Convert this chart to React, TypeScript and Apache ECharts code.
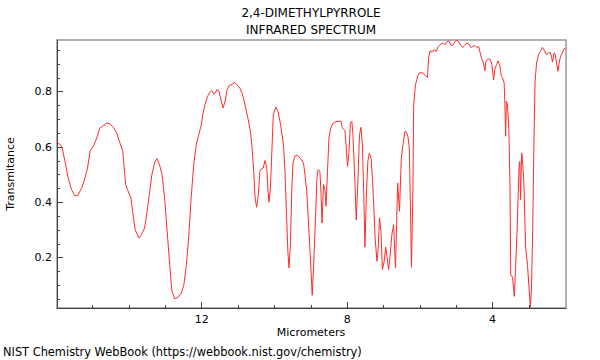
import React, { useEffect, useRef } from "react";
import * as echarts from "echarts";

const micrometers = [
  15.99, 15.87, 15.84, 15.76, 15.67, 15.58, 15.49, 15.41, 15.35, 15.29, 15.21, 15.14, 15.07, 14.98, 14.92, 14.86,
  14.8, 14.71, 14.66, 14.62, 14.52, 14.43, 14.34, 14.25, 14.17, 14.14, 14.09, 14.04, 13.98, 13.95, 13.89, 13.83,
  13.73, 13.66, 13.57, 13.5, 13.43, 13.37, 13.29, 13.23, 13.16, 13.09, 13.02, 12.95, 12.88, 12.82, 12.74, 12.65,
  12.56, 12.49, 12.42, 12.36, 12.29, 12.22, 12.15, 12.08, 12.01, 11.97, 11.91, 11.84, 11.76, 11.73, 11.67, 11.63,
  11.58, 11.53, 11.47, 11.41, 11.36, 11.3, 11.24, 11.17, 11.1, 11.03, 10.95, 10.88, 10.81, 10.73, 10.66, 10.62,
  10.57, 10.53, 10.49, 10.44, 10.4, 10.35, 10.31, 10.26, 10.21, 10.18, 10.15, 10.11, 10.07, 10.03, 9.96, 9.9,
  9.83, 9.75, 9.71, 9.67, 9.63, 9.6, 9.56, 9.52, 9.49, 9.44, 9.37, 9.28, 9.2, 9.16, 9.11, 9.07,
  9.02, 8.96, 8.92, 8.87, 8.83, 8.8, 8.75, 8.72, 8.69, 8.65, 8.61, 8.58, 8.54, 8.5, 8.45, 8.38,
  8.28, 8.17, 8.13, 8.06, 8.03, 7.99, 7.95, 7.91, 7.87, 7.84, 7.79, 7.75, 7.7, 7.66, 7.62, 7.58,
  7.54, 7.51, 7.47, 7.43, 7.39, 7.34, 7.29, 7.23, 7.18, 7.15, 7.11, 7.07, 7.03, 6.98, 6.94, 6.9,
  6.86, 6.82, 6.77, 6.72, 6.67, 6.63, 6.61, 6.56, 6.51, 6.47, 6.41, 6.37, 6.33, 6.29, 6.26, 6.23,
  6.19, 6.17, 6.12, 6.05, 6.0, 5.94, 5.92, 5.85, 5.79, 5.76, 5.72, 5.66, 5.61, 5.55, 5.49, 5.42,
  5.35, 5.3, 5.26, 5.2, 5.15, 5.09, 5.04, 4.98, 4.93, 4.87, 4.82, 4.76, 4.71, 4.65, 4.6, 4.54,
  4.49, 4.43, 4.38, 4.34, 4.29, 4.25, 4.21, 4.18, 4.12, 4.06, 4.02, 3.97, 3.94, 3.89, 3.85, 3.8,
  3.76, 3.73, 3.68, 3.66, 3.64, 3.62, 3.59, 3.55, 3.52, 3.5, 3.45, 3.4, 3.37, 3.32, 3.27, 3.25,
  3.23, 3.2, 3.18, 3.14, 3.09, 3.04, 2.99, 2.96, 2.93, 2.9, 2.86, 2.83, 2.79, 2.73, 2.68, 2.63,
  2.57, 2.52, 2.46, 2.42, 2.38, 2.35, 2.31, 2.28, 2.24, 2.2, 2.17, 2.13, 2.08, 2.04, 2.0,
];

const transmittance = [
  0.618, 0.606, 0.597, 0.548, 0.488, 0.446, 0.424, 0.424, 0.44, 0.455, 0.488, 0.524, 0.585, 0.603, 0.621, 0.645,
  0.669, 0.677, 0.681, 0.687, 0.683, 0.671, 0.651, 0.615, 0.585, 0.536, 0.464, 0.446, 0.426, 0.42, 0.355, 0.301,
  0.271, 0.283, 0.307, 0.368, 0.44, 0.5, 0.546, 0.558, 0.536, 0.5, 0.416, 0.295, 0.175, 0.079, 0.051, 0.057,
  0.072, 0.102, 0.175, 0.271, 0.416, 0.536, 0.608, 0.645, 0.681, 0.717, 0.753, 0.783, 0.801, 0.805, 0.792, 0.795,
  0.807, 0.805, 0.771, 0.741, 0.765, 0.807, 0.823, 0.825, 0.835, 0.825, 0.813, 0.792, 0.753, 0.705, 0.657, 0.608,
  0.512, 0.416, 0.382, 0.428, 0.512, 0.522, 0.524, 0.551, 0.524, 0.452, 0.4, 0.452, 0.585, 0.717, 0.744, 0.729,
  0.681, 0.608, 0.512, 0.368, 0.223, 0.163, 0.247, 0.452, 0.542, 0.567, 0.57, 0.558, 0.542, 0.5, 0.44, 0.344,
  0.223, 0.064, 0.175, 0.344, 0.488, 0.518, 0.512, 0.44, 0.325, 0.464, 0.446, 0.386, 0.512, 0.633, 0.669, 0.687,
  0.693, 0.693, 0.669, 0.659, 0.608, 0.53, 0.58, 0.687, 0.693, 0.645, 0.488, 0.337, 0.488, 0.645, 0.671, 0.608,
  0.416, 0.238, 0.428, 0.548, 0.578, 0.56, 0.452, 0.271, 0.187, 0.223, 0.344, 0.295, 0.157, 0.187, 0.238, 0.199,
  0.157, 0.205, 0.283, 0.319, 0.163, 0.368, 0.47, 0.368, 0.56, 0.603, 0.657, 0.654, 0.639, 0.597, 0.392, 0.165,
  0.452, 0.753, 0.825, 0.859, 0.869, 0.868, 0.868, 0.859, 0.852, 0.922, 0.948, 0.943, 0.952, 0.946, 0.964, 0.972,
  0.976, 0.97, 0.98, 0.984, 0.968, 0.968, 0.98, 0.987, 0.98, 0.968, 0.96, 0.968, 0.976, 0.972, 0.96, 0.964,
  0.968, 0.96, 0.963, 0.94, 0.916, 0.904, 0.876, 0.91, 0.919, 0.916, 0.898, 0.843, 0.88, 0.898, 0.912, 0.895,
  0.856, 0.852, 0.831, 0.753, 0.639, 0.765, 0.753, 0.657, 0.452, 0.139, 0.129, 0.06, 0.151, 0.319, 0.536, 0.548,
  0.41, 0.578, 0.56, 0.476, 0.235, 0.175, 0.079, 0.021, 0.091, 0.271, 0.633, 0.838, 0.904, 0.936, 0.946, 0.96,
  0.948, 0.934, 0.94, 0.943, 0.928, 0.907, 0.94, 0.936, 0.904, 0.874, 0.904, 0.928, 0.94, 0.955, 0.958,
];

const xMajorTicks = [12, 8, 4];
const xMinorTicks = [15, 14, 13, 11, 10, 9, 7, 6, 5, 3];
const yMajorTicks = [0.2, 0.4, 0.6, 0.8];
const yMinorTicks = [0.05, 0.1, 0.15, 0.25, 0.3, 0.35, 0.45, 0.5, 0.55, 0.65, 0.7, 0.75, 0.85, 0.9, 0.95];

const titleLines = ["2,4-DIMETHYLPYRROLE", "INFRARED SPECTRUM"];
const xName = "Micrometers";
const yName = "Transmitance";
const footer = "NIST Chemistry WebBook (https://webbook.nist.gov/chemistry)";

const X_MIN = 1.98;
const X_MAX = 15.98;
const Y_MIN = 0.018;
const Y_MAX = 0.987;

const FONT = "DejaVu Sans";

export default function App() {
  const ref = useRef<HTMLDivElement>(null);
  useEffect(() => {
    if (!ref.current) return;
    const chart = echarts.init(ref.current, null, { renderer: "svg" });
    const data = micrometers.map((m, i) => [m, transmittance[i]]);
    const axisLineStyle = { color: "#444", width: 1 };
    chart.setOption({
      animation: false,
      backgroundColor: "#fff",
      grid: {
        left: 57,
        right: 34,
        top: 40,
        bottom: 52,
        show: true,
        borderColor: "#999",
        borderWidth: 1.5,
      },
      xAxis: [
        {
          type: "value",
          min: X_MIN,
          max: X_MAX,
          inverse: true,
          position: "bottom",
          axisLine: { show: true, lineStyle: axisLineStyle },
          axisTick: { show: true, inside: true, length: 6, customValues: xMajorTicks, lineStyle: axisLineStyle },
          axisLabel: {
            show: true,
            customValues: xMajorTicks,
            color: "#000",
            fontFamily: FONT,
            fontSize: 11,
            margin: 6,
            formatter: (v: number) => String(v),
          },
          splitLine: { show: false },
        },
        {
          type: "value",
          min: X_MIN,
          max: X_MAX,
          inverse: true,
          position: "bottom",
          axisLine: { show: false },
          axisTick: { show: true, inside: true, length: 3, customValues: xMinorTicks, lineStyle: axisLineStyle },
          axisLabel: { show: false },
          splitLine: { show: false },
        },
      ],
      yAxis: [
        {
          type: "value",
          min: Y_MIN,
          max: Y_MAX,
          position: "left",
          axisLine: { show: true, lineStyle: axisLineStyle },
          axisTick: { show: true, inside: true, length: 6, customValues: yMajorTicks, lineStyle: axisLineStyle },
          axisLabel: {
            show: true,
            customValues: yMajorTicks,
            color: "#000",
            fontFamily: FONT,
            fontSize: 11,
            margin: 5,
            formatter: (v: number) => v.toFixed(1),
          },
          splitLine: { show: false },
        },
        {
          type: "value",
          min: Y_MIN,
          max: Y_MAX,
          position: "left",
          axisLine: { show: false },
          axisTick: { show: true, inside: true, length: 3, customValues: yMinorTicks, lineStyle: axisLineStyle },
          axisLabel: { show: false },
          splitLine: { show: false },
        },
      ],
      series: [
        {
          type: "line",
          xAxisIndex: 0,
          yAxisIndex: 0,
          data,
          showSymbol: false,
          symbol: "none",
          lineStyle: { color: "#ff2b2b", width: 1 },
          clip: true,
        },
      ],
      graphic: [
        {
          type: "text",
          x: 311,
          y: 13,
          style: { text: titleLines[0], fill: "#000", font: `12px '${FONT}'`, textAlign: "center", textVerticalAlign: "middle" },
        },
        {
          type: "text",
          x: 311,
          y: 30,
          style: { text: titleLines[1], fill: "#000", font: `12px '${FONT}'`, textAlign: "center", textVerticalAlign: "middle" },
        },
        {
          type: "text",
          x: 311,
          y: 332,
          style: { text: xName, fill: "#000", font: `11px '${FONT}'`, textAlign: "center", textVerticalAlign: "middle" },
        },
        {
          type: "text",
          x: 10,
          y: 174,
          rotation: Math.PI / 2,
          style: { text: yName, fill: "#000", font: `11px '${FONT}'`, textAlign: "center", textVerticalAlign: "middle" },
        },
        {
          type: "text",
          x: 3,
          y: 352,
          style: { text: footer, fill: "#000", font: `11.4px '${FONT}'`, textAlign: "left", textVerticalAlign: "middle" },
        },
      ],
    });
    return () => chart.dispose();
  }, []);
  return <div ref={ref} style={{ position: "fixed", left: 0, top: 0, width: 600, height: 360 }} />;
}
